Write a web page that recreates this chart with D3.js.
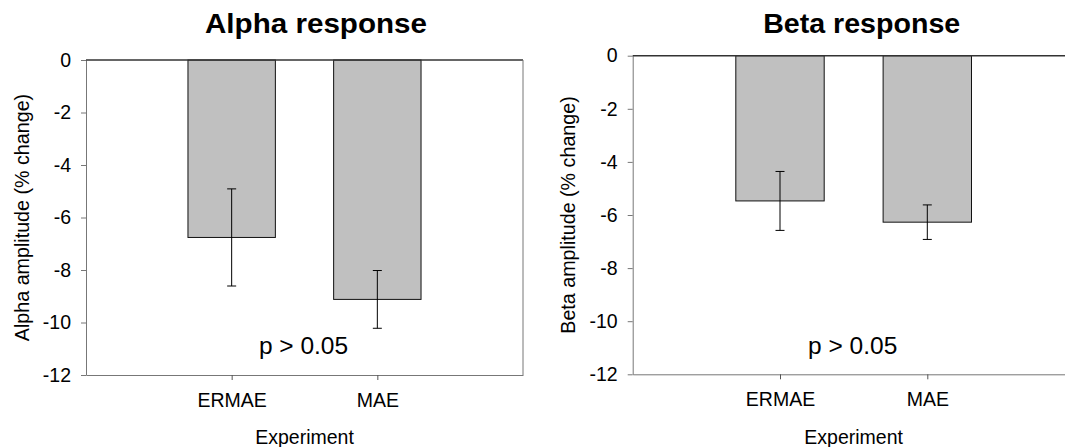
<!DOCTYPE html>
<html><head><meta charset="utf-8">
<script src="https://cdn.jsdelivr.net/npm/d3@7"></script>
<style>
html,body{margin:0;padding:0;background:#fff;overflow:hidden}
svg{display:block;font-family:"Liberation Sans",Arial,sans-serif}
</style></head>
<body><svg id="c" width="1065" height="447"></svg>
<script>
const categories = ["ERMAE", "MAE"];
const alphaMean = [-6.76, -9.12];
const alphaErr = [1.85, 1.1];
const betaMean = [-5.47, -6.27];
const betaErr = [1.11, 0.65];
const yTicks = [0, -2, -4, -6, -8, -10, -12];
const titles = ["Alpha response", "Beta response"];
const yLabels = ["Alpha amplitude (% change)", "Beta amplitude (% change)"];
const xLabel = "Experiment";
const pText = "p > 0.05";

const svg = d3.select("#c");

function panel(cfg) {
  const {x0, x1, y0, y1, means, errs, title, titleX, titleW, ylab, ylabX, rightBorder} = cfg;
  const x = d3.scaleLinear().domain([0, 3]).range([x0, x1]);
  const y = d3.scaleLinear().domain([0, -12]).range([y0, y1]);
  const g = svg.append("g");
  const data = categories.map((c, i) => ({c, i, m: means[i], e: errs[i]}));

  // bars
  const bw = 0.6;
  g.selectAll("rect.bar").data(data).enter().append("rect")
    .attr("x", d => x(d.i + 1 - bw / 2))
    .attr("width", d => x(d.i + 1 + bw / 2) - x(d.i + 1 - bw / 2))
    .attr("y", y(0))
    .attr("height", d => y(d.m) - y(0))
    .attr("fill", "#c0c0c0").attr("stroke", "#111").attr("stroke-width", 1);

  // error bars
  const cap = 4.5;
  const eb = g.selectAll("g.eb").data(data).enter().append("g").attr("stroke", "#000").attr("stroke-width", 1);
  eb.append("line").attr("x1", d => x(d.i + 1)).attr("x2", d => x(d.i + 1))
    .attr("y1", d => y(d.m + d.e)).attr("y2", d => y(d.m - d.e));
  eb.append("line").attr("x1", d => x(d.i + 1) - cap).attr("x2", d => x(d.i + 1) + cap)
    .attr("y1", d => y(d.m + d.e)).attr("y2", d => y(d.m + d.e));
  eb.append("line").attr("x1", d => x(d.i + 1) - cap).attr("x2", d => x(d.i + 1) + cap)
    .attr("y1", d => y(d.m - d.e)).attr("y2", d => y(d.m - d.e));

  // y axis
  const ya = g.append("g").attr("transform", `translate(${x0},0)`)
    .call(d3.axisLeft(y).tickValues(yTicks).tickFormat(d => String(d)).tickSize(5).tickSizeOuter(0).tickPadding(10));
  ya.select(".domain").attr("stroke", "#777");
  ya.selectAll(".tick line").attr("stroke", "#777");
  ya.selectAll("text").attr("font-size", 19.5).attr("fill", "#000").attr("font-family", "Liberation Sans, Arial, sans-serif");

  // x axis
  const xa = g.append("g").attr("transform", `translate(0,${y1})`)
    .call(d3.axisBottom(x).tickValues([1, 2]).tickFormat(d => categories[d - 1]).tickSize(5).tickSizeOuter(0).tickPadding(13));
  xa.select(".domain").attr("stroke", "#777");
  xa.selectAll(".tick line").attr("stroke", "#555");
  xa.selectAll("text").attr("font-size", 19.5).attr("fill", "#000").attr("font-family", "Liberation Sans, Arial, sans-serif");

  // top line
  g.append("line").attr("x1", x0).attr("x2", x1).attr("y1", y0).attr("y2", y0)
    .attr("stroke", "#333").attr("stroke-width", 1.5);
  if (rightBorder) {
    g.append("line").attr("x1", x1).attr("x2", x1).attr("y1", y0).attr("y2", y1)
      .attr("stroke", "#777").attr("stroke-width", 1);
  }

  // title
  g.append("text").attr("x", titleX).attr("y", 33).attr("text-anchor", "middle")
    .attr("font-size", 27).attr("font-weight", "bold").attr("fill", "#000")
    .attr("textLength", titleW).attr("lengthAdjust", "spacingAndGlyphs")
    .text(title);

  // y label
  g.append("text").attr("transform", `translate(${ylabX},${(y0 + y1) / 2}) rotate(-90)`)
    .attr("text-anchor", "middle").attr("font-size", 19.7).attr("fill", "#000").text(ylab);

  // x label
  g.append("text").attr("x", (x0 + x1) / 2).attr("y", 444)
    .attr("text-anchor", "middle").attr("font-size", 19.5).attr("fill", "#000").text(xLabel);

  // p text
  g.append("text").attr("x", x(1.5) - 1).attr("y", 354).attr("text-anchor", "middle")
    .attr("font-size", 24.5).attr("fill", "#000").text(pText);
}

panel({x0: 86, x1: 523, y0: 60, y1: 375, means: alphaMean, errs: alphaErr,
  title: titles[0], titleX: 316, titleW: 222, ylab: yLabels[0], ylabX: 29, rightBorder: true});
panel({x0: 632.7, x1: 1074.6, y0: 55.7, y1: 374.3, means: betaMean, errs: betaErr,
  title: titles[1], titleX: 861.7, titleW: 197, ylab: yLabels[1], ylabX: 575, rightBorder: false});
</script></body></html>
